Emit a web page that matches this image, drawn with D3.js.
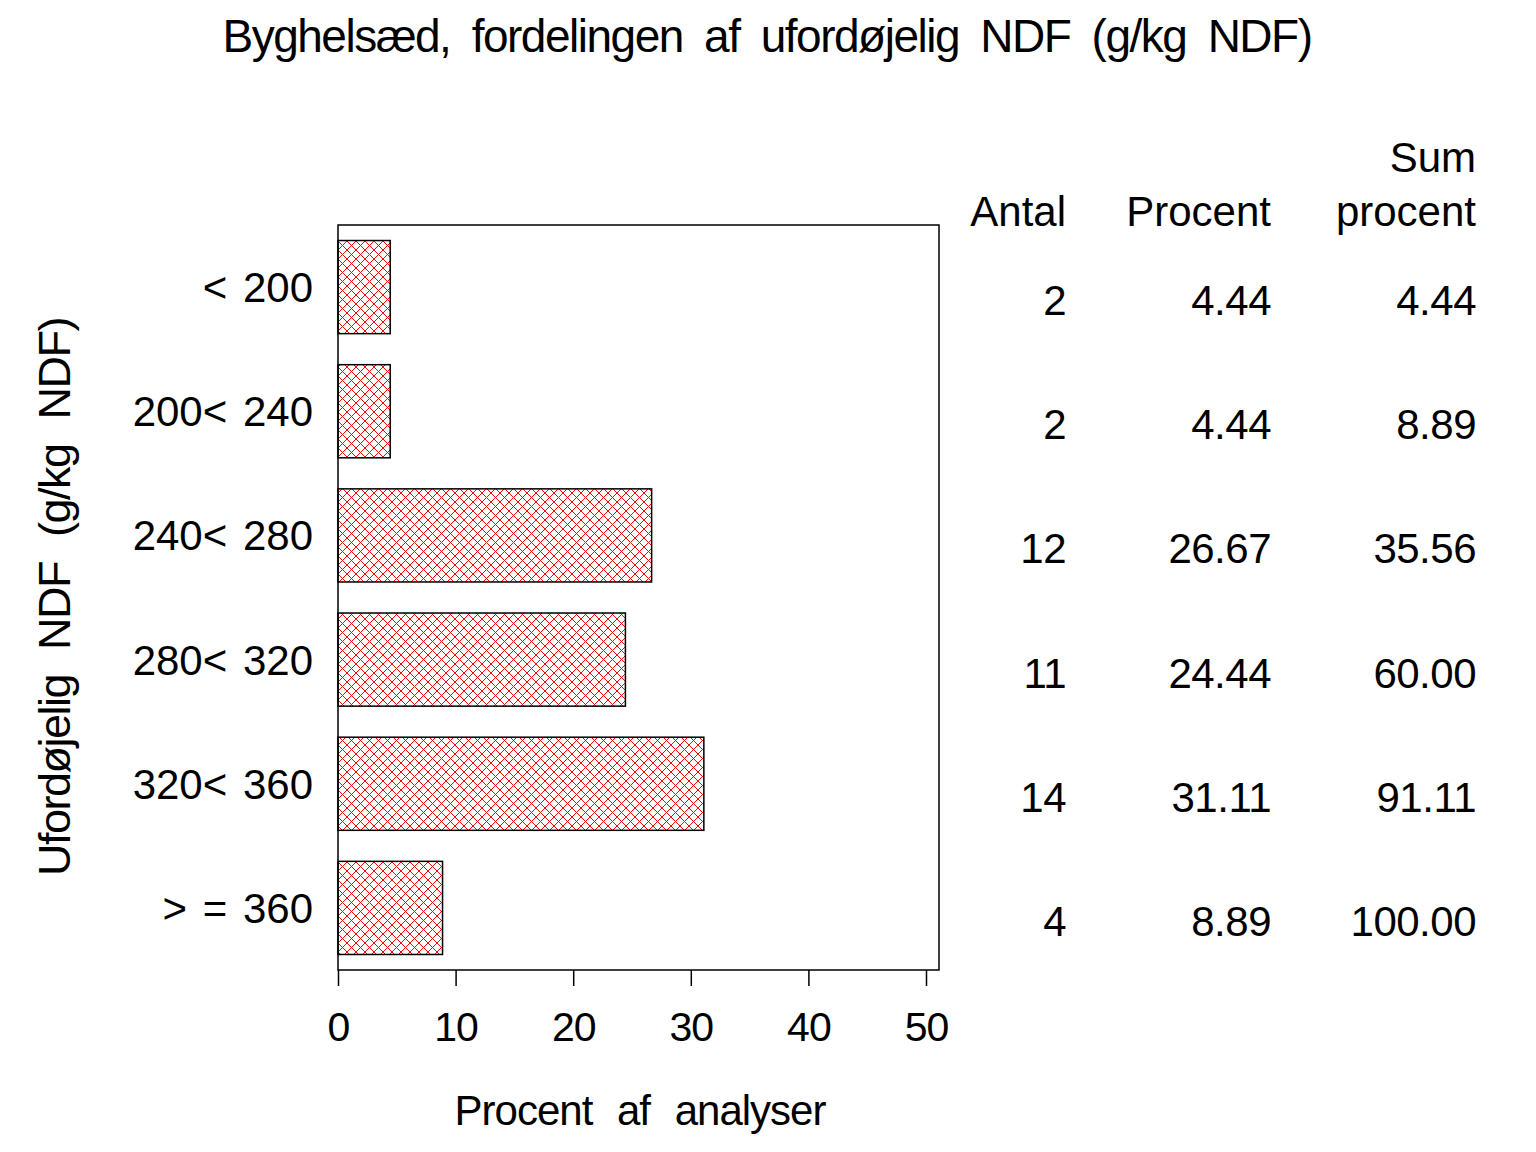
<!DOCTYPE html>
<html>
<head>
<meta charset="utf-8">
<script src="https://cdn.jsdelivr.net/npm/d3@7"></script>
<style>
  body { margin: 0; background: #fff; }
  text { font-family: "Liberation Sans", Arial, sans-serif; fill: #000; }
</style>
</head>
<body>
<div id="chart"></div>
<script>
const categories = ["< 200", "200< 240", "240< 280", "280< 320", "320< 360", "> = 360"];
const antal = [2, 2, 12, 11, 14, 4];
const procent = [4.44, 4.44, 26.67, 24.44, 31.11, 8.89];
const sumProcent = [4.44, 8.89, 35.56, 60.00, 91.11, 100.00];
const xTicks = [0, 10, 20, 30, 40, 50];

const width = 1536, height = 1152;

const svg = d3.select("#chart")
  .append("svg")
  .attr("width", width)
  .attr("height", height);

// red cross hatch
const pat = svg.append("defs").append("pattern")
  .attr("id", "hatch")
  .attr("patternUnits", "userSpaceOnUse")
  .attr("x", 338).attr("y", 241)
  .attr("width", 9).attr("height", 9);
pat.append("rect").attr("width", 9).attr("height", 9).attr("fill", "#fff");
pat.append("path")
  .attr("d", "M0,0L9,9M9,0L0,9")
  .attr("stroke", "#ff0000")
  .attr("stroke-width", 1);

const frame = {left: 338, right: 939, top: 225, bottom: 970};

const x = d3.scaleLinear().domain([0, 50]).range([338, 926]);
const y = d3.scaleBand()
  .domain(categories)
  .range([frame.top, frame.bottom])
  .paddingInner(0.25)
  .paddingOuter(0.125);

// title (SAS style: tight letters, wide word gaps)
svg.append("text")
  .attr("x", 767).attr("y", 52)
  .attr("text-anchor", "middle")
  .attr("font-size", 46)
  .attr("letter-spacing", -1.5)
  .attr("word-spacing", 10)
  .text("Byghelsæd, fordelingen af ufordøjelig NDF (g/kg NDF)");

// bars
svg.append("g")
  .selectAll("rect")
  .data(procent)
  .join("rect")
  .attr("x", x(0))
  .attr("y", (d, i) => y(categories[i]))
  .attr("width", d => x(d) - x(0))
  .attr("height", y.bandwidth())
  .attr("fill", "url(#hatch)")
  .attr("stroke", "#000")
  .attr("stroke-width", 1.5);

// frame
svg.append("rect")
  .attr("x", frame.left).attr("y", frame.top)
  .attr("width", frame.right - frame.left)
  .attr("height", frame.bottom - frame.top)
  .attr("fill", "none")
  .attr("stroke", "#000")
  .attr("stroke-width", 1.5);

// x axis
const xAxis = svg.append("g")
  .attr("transform", `translate(0,${frame.bottom})`)
  .call(d3.axisBottom(x).tickValues(xTicks).tickSize(16).tickPadding(26).tickFormat(d3.format("d")));
xAxis.select(".domain").remove();
xAxis.selectAll(".tick line").attr("stroke", "#000").attr("stroke-width", 1.5);
xAxis.selectAll(".tick text")
  .attr("font-size", 41)
  .attr("font-family", "Liberation Sans, Arial, sans-serif")
  .attr("letter-spacing", -1)
  .attr("dy", "0.71em");

// category labels
svg.append("g")
  .selectAll("text")
  .data(categories)
  .join("text")
  .attr("x", 313)
  .attr("y", d => y(d) + y.bandwidth() / 2 + 15)
  .attr("text-anchor", "end")
  .attr("font-size", 42)
  .attr("word-spacing", 4)
  .text(d => d);

// axis titles
svg.append("text")
  .attr("x", 640).attr("y", 1125)
  .attr("text-anchor", "middle")
  .attr("font-size", 42)
  .attr("letter-spacing", -1)
  .attr("word-spacing", 14)
  .text("Procent af analyser");

svg.append("text")
  .attr("transform", "translate(70,597) rotate(-90)")
  .attr("text-anchor", "middle")
  .attr("font-size", 45)
  .attr("letter-spacing", -1.5)
  .attr("word-spacing", 14)
  .text("Ufordøjelig NDF (g/kg NDF)");

// table
const cols = [
  {x: 1066, head: ["", "Antal"], vals: antal.map(d => String(d))},
  {x: 1271, head: ["", "Procent"], vals: procent.map(d => d.toFixed(2))},
  {x: 1476, head: ["Sum", "procent"], vals: sumProcent.map(d => d.toFixed(2))}
];

cols.forEach(c => {
  svg.append("text")
    .attr("x", c.x).attr("y", 172)
    .attr("text-anchor", "end").attr("font-size", 42)
    .text(c.head[0]);
  svg.append("text")
    .attr("x", c.x).attr("y", 226)
    .attr("text-anchor", "end").attr("font-size", 42)
    .text(c.head[1]);
  svg.append("g")
    .selectAll("text")
    .data(c.vals)
    .join("text")
    .attr("x", c.x)
    .attr("y", (d, i) => y(categories[i]) + y.bandwidth() / 2 + 28)
    .attr("text-anchor", "end")
    .attr("font-size", 42)
    .attr("letter-spacing", -0.5)
    .text(d => d);
});
</script>
</body>
</html>
